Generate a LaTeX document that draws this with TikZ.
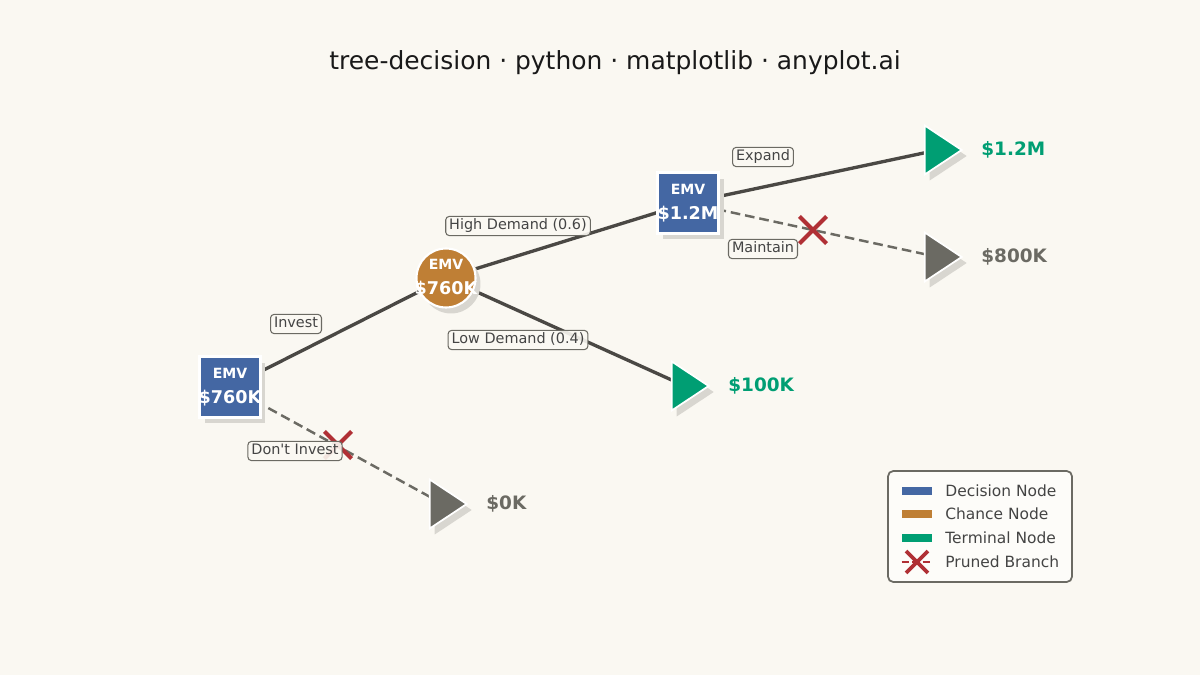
\documentclass[tikz,border=0pt]{standalone}
\usepackage{tikz}
\usepackage{fontspec}
\setmainfont{DejaVu Sans}
\definecolor{PaperCream}{HTML}{FAF8F2}
\definecolor{DecisionBlue}{HTML}{4467A3}
\definecolor{ChanceOchre}{HTML}{BF7F35}
\definecolor{TerminalGreen}{HTML}{009E73}
\definecolor{PrunedGray}{HTML}{6B6A63}
\definecolor{LinkDark}{HTML}{4A4844}
\definecolor{CutRed}{HTML}{B03035}
\definecolor{ShadowGray}{HTML}{D8D6D0}
\definecolor{TagText}{HTML}{444444}
\definecolor{LegendFill}{HTML}{FDFCF9}
\usetikzlibrary{positioning,shapes.geometric,shapes.misc,shadows,backgrounds}

\begin{document}
\begin{tikzpicture}[
    x=0.02cm, y=-0.02cm,
    shade/.style={drop shadow={shadow xshift=0.1cm, shadow yshift=-0.12cm, fill=ShadowGray, opacity=1}},
    decision/.style={rectangle, fill=DecisionBlue, draw=white, line width=1.2pt, minimum size=1.22cm,
      inner sep=0pt, shade},
    chance/.style={circle, fill=ChanceOchre, draw=white, line width=1.2pt, minimum size=1.18cm,
      inner sep=0pt, shade},
    terminal/.style={isosceles triangle, isosceles triangle stretches, shape border rotate=0,
      minimum width=0.98cm, minimum height=0.74cm, inner sep=0pt, draw=white, line width=1pt, shade},
    emv/.style={text=white, align=center, inner sep=0pt, font=\bfseries\fontsize{10}{12}\selectfont},
    payoff/.style={inner sep=0pt, xshift=0.34cm, font=\bfseries\fontsize{10.5}{12}\selectfont},
    tag/.style={draw=PrunedGray, line width=0.6pt, rounded corners=2pt, fill=PaperCream, fill opacity=0.9,
      text opacity=1, text=TagText, inner xsep=2pt, inner ysep=1.6pt, text height=6pt, text depth=1.7pt,
      font=\fontsize{8.2}{9.8}\selectfont},
    link/.style={draw=LinkDark, line width=1.9pt},
    cut/.style={draw=PrunedGray, line width=1.4pt, dash pattern=on 5.5pt off 2.8pt},
    prune/.style={cross out, draw=CutRed, line width=2.4pt, minimum size=0.46cm, inner sep=0pt},
    swatch/.style={rectangle, minimum width=0.6cm, minimum height=0.17cm, inner sep=0pt},
    legtext/.style={anchor=west, inner sep=0pt, text=TagText, font=\fontsize{8.8}{10}\selectfont}
  ]
    \useasboundingbox (0,0) rectangle (1200,675);
    \begin{pgfonlayer}{background}
      \fill[PaperCream] (0,0) rectangle (1200,675);
    \end{pgfonlayer}

    \node[font=\fontsize{14.2}{17}\selectfont, text=black!90] (title) at (615,63)
      {tree-decision · python · matplotlib · anyplot.ai};

    \node[decision, label={[emv]center:{{\fontsize{8}{9}\selectfont EMV}\\[2pt]\$760K}}] (root) at (230,387) {};
    \node[chance, label={[emv]center:{{\fontsize{8}{9}\selectfont EMV}\\[2pt]\$760K}}] (market) at (446,278) {};
    \node[decision, label={[emv]center:{{\fontsize{8}{9}\selectfont EMV}\\[2pt]\$1.2M}}] (scale) at (688,203) {};
    \node[terminal, fill=TerminalGreen, anchor=apex,
      label={[payoff, text=TerminalGreen]right:\$1.2M}] (expand) at (964,150) {};
    \node[terminal, fill=PrunedGray, anchor=apex,
      label={[payoff, text=PrunedGray]right:\$800K}] (maintain) at (964,257) {};
    \node[terminal, fill=TerminalGreen, anchor=apex,
      label={[payoff, text=TerminalGreen]right:\$100K}] (low) at (711,386) {};
    \node[terminal, fill=PrunedGray, anchor=apex,
      label={[payoff, text=PrunedGray]right:\$0K}] (stay) at (469,504) {};

    \begin{pgfonlayer}{background}
      \draw[link] (root.center) -- (market.center);
      \draw[cut] (root.center) -- (stay.center);
      \draw[link] (market.center) -- (scale.center);
      \draw[link] (market.center) -- (low.center);
      \draw[link] (scale.center) -- (expand.center);
      \draw[cut] (scale.center) -- (maintain.center);
    \end{pgfonlayer}

    \node[prune] (cutstay) at (338,445) {};
    \node[prune] (cutmaintain) at (813,230) {};

    \node[tag] (tinvest) at (296,324) {Invest};
    \node[tag] (tstay) at (295,451) {Don\textquotesingle t Invest};
    \node[tag] (thigh) at (518,226) {High Demand (0.6)};
    \node[tag] (tlow) at (518,340) {Low Demand (0.4)};
    \node[tag] (texpand) at (763,157) {Expand};
    \node[tag] (tmaintain) at (763,249) {Maintain};

    \node[draw=PrunedGray, line width=1pt, rounded corners=3pt, fill=LegendFill,
      minimum width=3.68cm, minimum height=2.22cm] (legend) at (980,526.5) {};
    \node[swatch, fill=DecisionBlue] (swdecision) at (917,491) {};
    \node[legtext] (lxdecision) at (945,491) {Decision Node};
    \node[swatch, fill=ChanceOchre] (swchance) at (917,514) {};
    \node[legtext] (lxchance) at (945,514) {Chance Node};
    \node[swatch, fill=TerminalGreen] (swterminal) at (917,538) {};
    \node[legtext] (lxterminal) at (945,538) {Terminal Node};
    \node[swatch] (swpruned) at (917,562) {};
    \draw[CutRed, line width=1.4pt, dash pattern=on 4pt off 2pt] (swpruned.west) -- (swpruned.east);
    \node[prune, minimum size=0.36cm, line width=2.2pt] (xpruned) at (swpruned.center) {};
    \node[legtext] (lxpruned) at (945,562) {Pruned Branch};
  \end{tikzpicture}
\end{document}
